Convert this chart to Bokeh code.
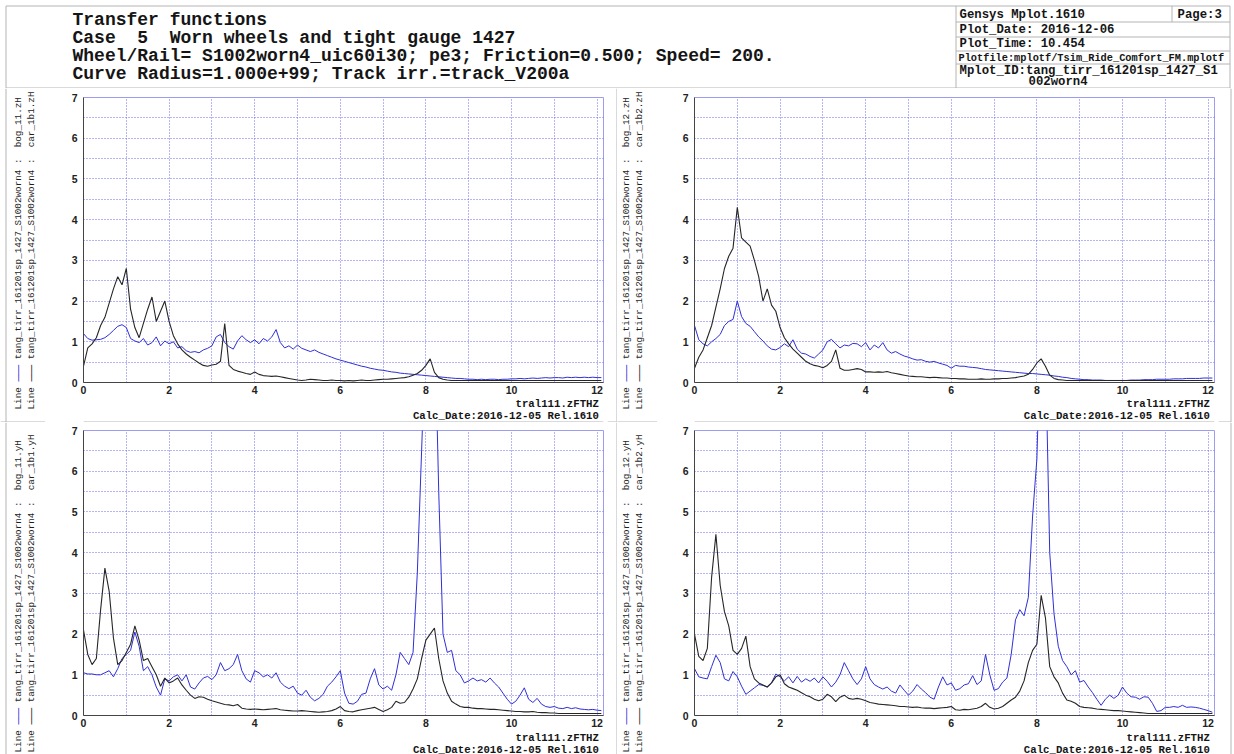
import math
from bokeh.plotting import figure
from bokeh.layouts import column, row
from bokeh.models import Range1d, FixedTicker, ColumnDataSource
from bokeh.embed import file_html
from bokeh.resources import INLINE
from bokeh.core.properties import value

# ---------------- data ----------------
freq = [round(i * 0.1, 1) for i in range(122)]  # 0.0 .. 12.1 Hz

tl_blue = [1.20, 1.08, 1.04, 1.05, 1.06, 1.10, 1.18, 1.28, 1.38, 1.42,
           1.35, 1.08, 1.02, 0.98, 1.08, 0.92, 0.98, 1.12, 0.90, 1.02,
           0.95, 1.00, 0.85, 0.88, 0.78, 0.74, 0.76, 0.73, 0.80, 0.84,
           0.90, 1.12, 1.18, 0.98, 0.88, 0.82, 1.02, 1.15, 1.05, 0.98,
           1.05, 0.95, 1.08, 1.02, 1.12, 1.30, 0.98, 0.85, 0.90, 0.82,
           0.92, 0.84, 0.80, 0.76, 0.80, 0.74, 0.70, 0.66, 0.62, 0.58,
           0.55, 0.52, 0.49, 0.46, 0.43, 0.40, 0.38, 0.35, 0.33, 0.31,
           0.30, 0.28, 0.26, 0.25, 0.23, 0.22, 0.21, 0.20, 0.19, 0.18,
           0.17, 0.16, 0.15, 0.14, 0.13, 0.12, 0.11, 0.10, 0.10, 0.09,
           0.08, 0.08, 0.07, 0.08, 0.07, 0.08, 0.08, 0.07, 0.08, 0.08,
           0.09, 0.09, 0.10, 0.09, 0.10, 0.11, 0.10, 0.11, 0.12, 0.11,
           0.12, 0.12, 0.11, 0.13, 0.12, 0.13, 0.12, 0.13, 0.12, 0.13,
           0.12, 0.12]
tl_black = [0.40, 0.85, 0.95, 1.10, 1.40, 1.60, 1.95, 2.30, 2.60, 2.40,
            2.80, 1.80, 1.35, 1.10, 1.45, 1.80, 2.10, 1.50, 1.75, 2.00,
            1.50, 1.15, 0.95, 0.80, 0.70, 0.62, 0.55, 0.48, 0.42, 0.40,
            0.43, 0.45, 0.52, 1.45, 0.42, 0.32, 0.28, 0.25, 0.22, 0.20,
            0.26, 0.20, 0.17, 0.16, 0.15, 0.16, 0.14, 0.12, 0.10, 0.08,
            0.06, 0.05, 0.06, 0.08, 0.07, 0.06, 0.05, 0.05, 0.06, 0.05,
            0.05, 0.04, 0.05, 0.04, 0.05, 0.06, 0.05, 0.05, 0.06, 0.07,
            0.08, 0.08, 0.09, 0.10, 0.11, 0.12, 0.14, 0.18, 0.22, 0.30,
            0.42, 0.58, 0.25, 0.12, 0.08, 0.06, 0.05, 0.05, 0.05, 0.05,
            0.05, 0.05, 0.05, 0.05, 0.05, 0.05, 0.05, 0.05, 0.05, 0.05,
            0.05, 0.05, 0.05, 0.05, 0.05, 0.05, 0.05, 0.05, 0.05, 0.05,
            0.05, 0.05, 0.05, 0.05, 0.05, 0.05, 0.05, 0.05, 0.05, 0.05,
            0.05, 0.05]

tr_blue = [1.40, 1.05, 0.95, 0.90, 1.00, 1.08, 1.18, 1.40, 1.50, 1.55,
           2.00, 1.62, 1.45, 1.38, 1.25, 1.12, 1.02, 0.90, 0.82, 0.80,
           0.86, 0.95, 0.88, 1.05, 0.82, 0.72, 0.70, 0.64, 0.60, 0.70,
           0.80, 1.00, 1.06, 0.95, 0.85, 0.92, 0.90, 0.96, 0.95, 0.88,
           0.98, 0.80, 0.92, 0.85, 0.98, 0.80, 0.72, 0.76, 0.70, 0.65,
           0.62, 0.58, 0.55, 0.56, 0.52, 0.50, 0.52, 0.48, 0.45, 0.42,
           0.35, 0.42, 0.40, 0.40, 0.38, 0.37, 0.36, 0.34, 0.32, 0.31,
           0.30, 0.29, 0.28, 0.27, 0.26, 0.25, 0.24, 0.23, 0.22, 0.22,
           0.21, 0.20, 0.19, 0.18, 0.16, 0.15, 0.13, 0.12, 0.10, 0.09,
           0.08, 0.07, 0.07, 0.06, 0.06, 0.06, 0.05, 0.05, 0.05, 0.05,
           0.05, 0.05, 0.06, 0.06, 0.06, 0.07, 0.07, 0.07, 0.08, 0.08,
           0.08, 0.08, 0.09, 0.09, 0.09, 0.10, 0.10, 0.10, 0.10, 0.11,
           0.11, 0.11]
tr_black = [0.35, 0.62, 0.80, 1.10, 1.40, 1.85, 2.30, 2.80, 3.10, 3.30,
            4.30, 3.55, 3.45, 3.35, 3.00, 2.60, 2.00, 2.30, 1.90, 1.75,
            1.35, 1.10, 0.95, 0.82, 0.72, 0.62, 0.52, 0.46, 0.42, 0.40,
            0.36, 0.42, 0.52, 0.80, 0.35, 0.30, 0.30, 0.32, 0.34, 0.32,
            0.26, 0.26, 0.25, 0.26, 0.25, 0.27, 0.24, 0.22, 0.20, 0.18,
            0.16, 0.15, 0.14, 0.14, 0.13, 0.12, 0.13, 0.12, 0.11, 0.11,
            0.10, 0.10, 0.09, 0.09, 0.08, 0.08, 0.08, 0.09, 0.08, 0.08,
            0.09, 0.09, 0.10, 0.10, 0.11, 0.12, 0.14, 0.16, 0.20, 0.32,
            0.48, 0.58, 0.40, 0.18, 0.10, 0.07, 0.06, 0.05, 0.05, 0.05,
            0.05, 0.05, 0.05, 0.05, 0.05, 0.05, 0.05, 0.05, 0.05, 0.05,
            0.05, 0.05, 0.05, 0.05, 0.05, 0.05, 0.05, 0.05, 0.05, 0.05,
            0.05, 0.05, 0.05, 0.05, 0.05, 0.05, 0.05, 0.05, 0.05, 0.05,
            0.05, 0.05]

bl_blue = [1.05, 1.02, 1.02, 1.00, 1.00, 1.05, 1.10, 0.95, 1.15, 1.40,
           1.50, 1.60, 2.05, 1.70, 1.10, 1.20, 1.00, 0.70, 0.50, 0.90,
           0.85, 0.95, 1.00, 0.85, 1.00, 0.70, 0.65, 0.80, 0.92, 0.96,
           0.88, 1.00, 1.30, 1.10, 1.15, 1.25, 1.50, 1.10, 0.90, 0.82,
           1.10, 1.05, 0.95, 1.00, 0.92, 1.05, 0.82, 0.72, 0.66, 0.72,
           0.55, 0.50, 0.62, 0.45, 0.36, 0.42, 0.52, 0.72, 0.82, 0.95,
           1.10, 0.55, 0.30, 0.28, 0.35, 0.52, 0.55, 0.90, 1.15, 0.75,
           0.65, 0.72, 0.62, 1.00, 1.55, 1.40, 1.25, 1.55, 3.50, 6.50,
           9.50, 10.5, 10.0, 5.50, 2.00, 1.55, 1.60, 1.10, 1.00, 0.80,
           0.85, 0.92, 0.85, 0.88, 0.82, 0.92, 0.80, 0.70, 0.55, 0.40,
           0.28, 0.35, 0.50, 0.68, 0.40, 0.32, 0.42, 0.28, 0.22, 0.20,
           0.22, 0.18, 0.17, 0.20, 0.17, 0.19, 0.16, 0.15, 0.14, 0.15,
           0.13, 0.12]
bl_black = [2.10, 1.50, 1.25, 1.40, 2.60, 3.62, 3.05, 1.90, 1.25, 1.35,
            1.55, 1.75, 2.20, 1.85, 1.35, 1.40, 1.20, 1.00, 0.72, 0.92,
            0.80, 0.85, 0.92, 0.75, 0.62, 0.50, 0.42, 0.46, 0.45, 0.40,
            0.36, 0.33, 0.30, 0.27, 0.26, 0.24, 0.27, 0.18, 0.16, 0.15,
            0.16, 0.15, 0.14, 0.15, 0.16, 0.17, 0.14, 0.13, 0.12, 0.11,
            0.11, 0.12, 0.11, 0.10, 0.09, 0.08, 0.09, 0.10, 0.12, 0.16,
            0.22, 0.12, 0.10, 0.09, 0.12, 0.14, 0.16, 0.18, 0.20, 0.15,
            0.10, 0.14, 0.20, 0.35, 0.30, 0.32, 0.45, 0.65, 0.90, 1.40,
            1.85, 2.00, 2.15, 1.40, 0.85, 0.55, 0.35, 0.28, 0.22, 0.20,
            0.20, 0.18, 0.17, 0.17, 0.16, 0.15, 0.15, 0.14, 0.13, 0.12,
            0.11, 0.10, 0.10, 0.09, 0.09, 0.10, 0.08, 0.07, 0.07, 0.06,
            0.06, 0.05, 0.05, 0.05, 0.05, 0.05, 0.05, 0.05, 0.05, 0.05,
            0.05, 0.05]

br_blue = [1.15, 0.95, 0.92, 0.90, 1.20, 1.48, 1.30, 0.90, 0.85, 1.08,
           0.95, 0.72, 0.52, 0.60, 0.68, 0.76, 0.74, 0.70, 0.80, 1.02,
           0.95, 0.85, 0.95, 0.80, 0.96, 0.82, 0.90, 0.84, 0.92, 0.80,
           0.95, 0.84, 0.70, 0.82, 1.00, 1.30, 1.10, 0.90, 0.76, 0.90,
           1.20, 0.90, 0.76, 0.70, 0.65, 0.70, 0.60, 0.55, 0.75, 0.62,
           0.50, 0.60, 0.76, 0.65, 0.56, 0.45, 0.40, 0.70, 0.95, 0.75,
           0.80, 0.62, 0.66, 0.75, 0.78, 0.98, 0.76, 0.85, 1.50, 1.00,
           0.62, 0.66, 0.82, 0.92, 1.50, 2.35, 2.60, 2.45, 2.90, 4.90,
           6.30, 10.0, 9.00, 4.00, 2.50, 1.70, 1.35, 1.20, 1.00, 1.10,
           0.82, 0.86, 0.70, 0.56, 0.40, 0.25, 0.40, 0.50, 0.42, 0.50,
           0.70, 0.55, 0.46, 0.45, 0.40, 0.46, 0.45, 0.30, 0.10, 0.12,
           0.20, 0.20, 0.22, 0.20, 0.25, 0.20, 0.21, 0.20, 0.18, 0.15,
           0.12, 0.08]
br_black = [2.00, 1.45, 1.35, 1.65, 3.40, 4.45, 3.20, 2.55, 2.20, 1.60,
            1.50, 1.65, 1.95, 1.20, 0.90, 0.80, 0.75, 0.70, 0.80, 0.95,
            1.00, 0.78, 0.70, 0.66, 0.62, 0.56, 0.50, 0.46, 0.40, 0.36,
            0.40, 0.52, 0.46, 0.34, 0.45, 0.50, 0.42, 0.40, 0.42, 0.40,
            0.36, 0.32, 0.30, 0.28, 0.27, 0.26, 0.25, 0.24, 0.22, 0.22,
            0.21, 0.20, 0.21, 0.19, 0.18, 0.18, 0.17, 0.18, 0.19, 0.20,
            0.22, 0.14, 0.13, 0.15, 0.14, 0.16, 0.18, 0.22, 0.30, 0.20,
            0.16, 0.18, 0.22, 0.30, 0.38, 0.45, 0.60, 0.85, 1.30, 1.60,
            1.75, 2.95, 2.40, 1.20, 0.95, 0.80, 0.55, 0.38, 0.35, 0.30,
            0.22, 0.20, 0.19, 0.18, 0.16, 0.15, 0.14, 0.13, 0.12, 0.12,
            0.11, 0.10, 0.09, 0.08, 0.07, 0.06, 0.05, 0.05, 0.05, 0.05,
            0.05, 0.05, 0.05, 0.05, 0.05, 0.05, 0.05, 0.05, 0.05, 0.05,
            0.05, 0.05]

run_name = "tang_tirr_161201sp_1427_S1002worn4"
x_ticks = [0, 2, 4, 6, 8, 10, 12]
y_ticks = [0, 1, 2, 3, 4, 5, 6, 7]
x_label = "tral111.zFTHZ"
calc_label = "Calc_Date:2016-12-05 Rel.1610"
header_lines = ["Transfer functions",
                "Case  5  Worn wheels and tight gauge 1427",
                "Wheel/Rail= S1002worn4_uic60i30; pe3; Friction=0.500; Speed= 200.",
                "Curve Radius=1.000e+99; Track irr.=track_V200a"]
info_lines = ["Gensys Mplot.1610", "Page:3", "Plot_Date: 2016-12-06", "Plot_Time: 10.454",
              "Mplot_ID:tang_tirr_161201sp_1427_S1", "002worn4"]
plotfile_line = "Plotfile:mplotf/Tsim_Ride_Comfort_FM.mplotf"

# ---------------- styling ----------------
XMAX = 12.15
YMAX = 7.0
FW, FH = 520, 285
BLUE = "#2f2fd6"
BLACK = "#262626"
GRID = "#5c5cf0"
BORDER = "#b4b4b4"
TXT = "#151515"
MONO = "Liberation Mono"
SANS = "Liberation Sans"
NB = "\u00a0"


def keep_spaces(s):
    return s.replace(" ", NB)


def deco(w, h):
    d = figure(width=w, height=h, x_range=Range1d(0, w), y_range=Range1d(h, 0),
               x_axis_type=None, y_axis_type=None, toolbar_location=None,
               output_backend="svg", min_border=0, title=None)
    d.outline_line_color = None
    d.background_fill_color = "white"
    d.border_fill_color = "white"
    return d


def make_panel(blue, black, ch_blue, ch_black, right_side, bottom_row):
    H = 332 if bottom_row else 334
    bt = 8 if bottom_row else 9
    bb = 16
    plot_h = bt + FH + bb
    foot_h = H - plot_h
    if right_side:
        leg_w, bl, right_w = 40, 37, 16
    else:
        leg_w, bl, right_w = 45, 38, 10
    plot_w = 617 - leg_w - right_w
    br = plot_w - bl - FW

    # ---- rotated legend column ----
    leg = deco(leg_w, H)
    cols = [9, 22] if right_side else [18, 31]
    start = 330 if bottom_row else 321
    fs = 9.3
    cw = fs * 0.6
    texts = ["Line" + NB * 5 + run_name + NB + ":" + NB * 2 + ch for ch in (ch_blue, ch_black)]
    leg.text(x=cols, y=[start, start], text=texts, angle=math.pi / 2,
             text_align="left", text_baseline="middle", text_font=value(MONO),
             text_font_size=f"{fs}px", text_color="#1e1e1e")
    dash = "\u2500\u2500\u2500"
    leg.text(x=[cols[0]], y=[start - 5 * cw], text=[dash], angle=math.pi / 2,
             text_align="left", text_baseline="middle", text_font=value("DejaVu Sans Mono"),
             text_font_size=f"{fs}px", text_color=BLUE)
    leg.text(x=[cols[1]], y=[start - 5 * cw], text=[dash], angle=math.pi / 2,
             text_align="left", text_baseline="middle", text_font=value("DejaVu Sans Mono"),
             text_font_size=f"{fs}px", text_color=BLACK)
    if not right_side:
        leg.segment([5.5], [0], [5.5], [H], line_color=BORDER, line_width=1)
    if not bottom_row:
        leg.segment([0], [H - 0.5], [leg_w], [H - 0.5], line_color=BORDER, line_width=1)

    # ---- the plot ----
    p = figure(width=plot_w, height=plot_h, x_range=Range1d(0, XMAX), y_range=Range1d(0, YMAX),
               min_border_left=bl, min_border_right=br, min_border_top=bt,
               min_border_bottom=bb, toolbar_location=None, output_backend="svg",
               title=None)
    p.background_fill_color = "white"
    p.border_fill_color = "white"
    p.outline_line_color = "#9c9cf0"

    p.xgrid.ticker = FixedTicker(ticks=list(range(13)))
    p.ygrid.ticker = FixedTicker(ticks=[i * 0.5 for i in range(15)])
    for g in (p.xgrid, p.ygrid):
        g.grid_line_color = GRID
        g.grid_line_dash = "1 2"
        g.grid_line_alpha = 0.9
        g.grid_line_width = 1

    p.xaxis.ticker = FixedTicker(ticks=x_ticks)
    p.yaxis.ticker = FixedTicker(ticks=y_ticks)
    for ax in (p.xaxis, p.yaxis):
        ax.axis_line_color = "#444444"
        ax.axis_line_width = 1
        ax.major_tick_line_color = "#444444"
        ax.major_tick_in = 0
        ax.major_tick_out = 0
        ax.minor_tick_out = 0
        ax.minor_tick_in = 0
        ax.major_label_text_font = SANS
        ax.major_label_text_font_style = "bold"
        ax.major_label_text_font_size = "10.5px"
        ax.major_label_text_color = "#222222"
    p.xaxis.major_label_standoff = 3
    p.yaxis.major_label_standoff = 6

    src_b = ColumnDataSource(dict(x=freq, y=blue))
    src_k = ColumnDataSource(dict(x=freq, y=black))
    p.line("x", "y", source=src_b, line_color=BLUE, line_width=1)
    p.line("x", "y", source=src_k, line_color=BLACK, line_width=1.1)

    # ---- footer with the x name and calc date ----
    foot = deco(plot_w, foot_h)
    rx = bl + FW - 1
    ty = 6 if bottom_row else 5.5
    foot.text(x=[rx, rx], y=[ty, ty + 12], text=[x_label, calc_label],
              text_align="right", text_baseline="middle", text_font=value(MONO),
              text_font_style="bold", text_font_size="10.7px", text_color=TXT)
    if not bottom_row:
        foot.segment([0], [foot_h - 0.5], [plot_w], [foot_h - 0.5], line_color=BORDER,
                     line_width=1)

    # ---- right strip with separator / page border ----
    rs = deco(right_w, H)
    vx = 12.5 if right_side else 9.5
    rs.segment([vx], [0], [vx], [H], line_color=BORDER, line_width=1)
    if not bottom_row:
        rs.segment([0], [H - 0.5], [vx], [H - 0.5], line_color=BORDER, line_width=1)

    return row(leg, column(p, foot), rs)


# ---------------- header ----------------
hdr = deco(1234, 88)
seg_x0 = [5.5, 5.5, 1229.5, 5.5, 955.5, 955.5, 955.5, 955.5, 955.5, 1171.5]
seg_y0 = [5.5, 5.5, 5.5, 87.5, 5.5, 21.5, 36.5, 50.5, 63.5, 5.5]
seg_x1 = [1229.5, 5.5, 1229.5, 1229.5, 955.5, 1229.5, 1229.5, 1229.5, 1229.5, 1171.5]
seg_y1 = [5.5, 88, 88, 87.5, 87.5, 21.5, 36.5, 50.5, 63.5, 21.5]
hdr.segment(seg_x0, seg_y0, seg_x1, seg_y1, line_color=BORDER, line_width=1)

hdr.text(x=[72] * 4, y=[19, 37, 55, 73], text=[keep_spaces(s) for s in header_lines],
         text_font=value(MONO), text_font_style="bold", text_font_size="18px",
         text_baseline="middle", text_align="left", text_color=TXT)
hdr.text(x=[959, 1177, 959, 959, 959, 1028], y=[14.5, 14.5, 29.5, 43.5, 70, 81.5],
         text=[keep_spaces(s) for s in info_lines], text_font=value(MONO),
         text_font_style="bold", text_font_size="12.3px", text_baseline="middle",
         text_align="left", text_color=TXT)
hdr.text(x=[958], y=[57.5], text=[plotfile_line], text_font=value(MONO),
         text_font_style="bold", text_font_size="10.3px", text_baseline="middle",
         text_align="left", text_color=TXT)

p_tl = make_panel(tl_blue, tl_black, "bog_11.zH", "car_1b1.zH", False, False)
p_tr = make_panel(tr_blue, tr_black, "bog_12.zH", "car_1b2.zH", True, False)
p_bl = make_panel(bl_blue, bl_black, "bog_11.yH", "car_1b1.yH", False, True)
p_br = make_panel(br_blue, br_black, "bog_12.yH", "car_1b2.yH", True, True)

page = column(hdr, row(p_tl, p_tr), row(p_bl, p_br))
open("out.html", "w").write(file_html(page, INLINE))
